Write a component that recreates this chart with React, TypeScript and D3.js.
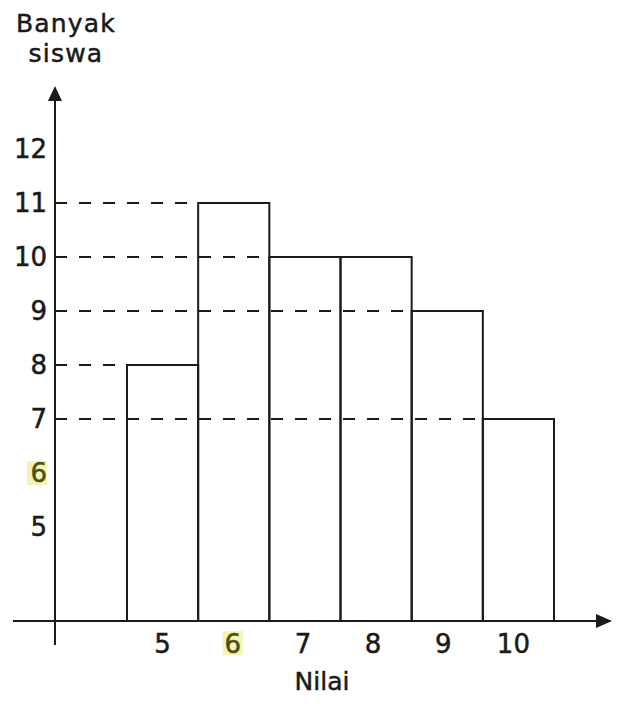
import React from "react";
import * as d3 from "d3";

// data
const nilai = [5, 6, 7, 8, 9, 10];
const banyakSiswa = [8, 11, 10, 10, 9, 7];
const yTicks = [5, 6, 7, 8, 9, 10, 11, 12];
const highlighted = [6];

const W = 620;
const H = 704;
const ink = "#1a1a1a";
const font = "DejaVu Sans, Verdana, sans-serif";

const App: React.FC = () => {
  // the value axis is broken: the x axis sits at about 3.26, not at zero
  const x = d3.scaleLinear().domain([4.5, 10.5]).range([127, 554]);
  const y = d3.scaleLinear().domain([3.26, 12]).range([621, 149]);
  const axisX = 55;
  const baseY = y(3.26);

  // dashed guide lines: from the axis to the left edge of the first bar of each height
  const guides = Array.from(new Set(banyakSiswa))
    .map((v) => ({ v, i: banyakSiswa.indexOf(v) }))
    .sort((a, b) => b.v - a.v);

  const hlBox = (cx: number, cy: number) => (
    <rect x={cx - 10} y={cy - 12} width={20} height={24} fill="#f4f4b4" />
  );

  return (
    <svg
      width={W}
      height={H}
      style={{ position: "absolute", left: 0, top: 0, background: "#fff" }}
      fontFamily={font}
    >
      <g stroke={ink} strokeWidth={0.5}>
        <text x={66} y={32} fontSize={25} letterSpacing={1.2} textAnchor="middle" fill={ink}>
          Banyak
        </text>
        <text x={66} y={62} fontSize={25} letterSpacing={1.2} textAnchor="middle" fill={ink}>
          siswa
        </text>
      </g>

      {guides.map((g) => (
        <line
          key={g.v}
          x1={axisX}
          x2={x(nilai[g.i] - 0.5)}
          y1={y(g.v)}
          y2={y(g.v)}
          stroke={ink}
          strokeWidth={2}
          strokeDasharray="12 12"
        />
      ))}

      {nilai.map((n, i) => (
        <rect
          key={n}
          x={x(n - 0.5)}
          y={y(banyakSiswa[i])}
          width={x(n + 0.5) - x(n - 0.5)}
          height={baseY - y(banyakSiswa[i])}
          fill="none"
          stroke={ink}
          strokeWidth={2}
        />
      ))}

      {/* axes */}
      <line x1={axisX} x2={axisX} y1={645} y2={98} stroke={ink} strokeWidth={2} />
      <path d={`M${axisX},86 L${axisX - 7},101 L${axisX + 7},101 Z`} fill={ink} />
      <line x1={13} x2={598} y1={baseY} y2={baseY} stroke={ink} strokeWidth={2} />
      <path d={`M612,${baseY} L596,${baseY - 7} L596,${baseY + 7} Z`} fill={ink} />

      {yTicks.map((t) => {
        const hl = highlighted.includes(t);
        const c = hl ? "#4f4f12" : ink;
        return (
          <g key={t}>
            {hl && hlBox(37, y(t))}
            <text
              x={47}
              y={y(t) + 9}
              fontSize={26}
              textAnchor="end"
              fill={c}
              stroke={c}
              strokeWidth={0.5}
            >
              {t}
            </text>
          </g>
        );
      })}

      {nilai.map((n) => {
        const hl = highlighted.includes(n);
        const c = hl ? "#4f4f12" : ink;
        const cx = x(n) - (n - 5) * 1;
        return (
          <g key={n}>
            {hl && hlBox(cx, 643)}
            <text
              x={cx}
              y={653}
              fontSize={26}
              textAnchor="middle"
              fill={c}
              stroke={c}
              strokeWidth={0.5}
            >
              {n}
            </text>
          </g>
        );
      })}

      <text x={322} y={690} fontSize={25} textAnchor="middle" fill={ink} stroke={ink} strokeWidth={0.5}>
        Nilai
      </text>
    </svg>
  );
};

export default App;
